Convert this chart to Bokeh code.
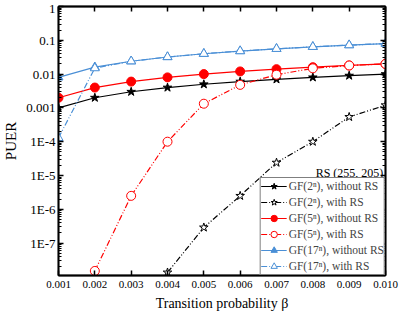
import numpy as np
from bokeh.plotting import figure
from bokeh.models import (FixedTicker, CustomJSTickFormatter, LogAxis, LinearAxis,
                          Legend, LegendItem, Label, Range1d, NumeralTickFormatter)
from bokeh.embed import file_html
from bokeh.resources import INLINE

# ---- data ----
beta = [0.001, 0.002, 0.003, 0.004, 0.005, 0.006, 0.007, 0.008, 0.009, 0.010]
gf2_without = [0.001, 0.002, 0.003, 0.004, 0.005, 0.006, 0.007, 0.008, 0.009, 0.010]
gf5_without = [0.002, 0.004, 0.006, 0.008, 0.010, 0.012, 0.014, 0.016, 0.018, 0.020]
gf17_without = [0.008, 0.016, 0.024, 0.032, 0.040, 0.048, 0.056, 0.064, 0.072, 0.080]
beta_gf2_with = [0.004, 0.005, 0.006, 0.007, 0.008, 0.009, 0.010]
gf2_with = [1.35e-8, 2.9e-7, 2.5e-6, 2.4e-5, 1.0e-4, 5.4e-4, 1.2e-3]
beta_gf5_with = [0.002, 0.003, 0.004, 0.005, 0.006, 0.007, 0.008, 0.009, 0.010]
gf5_with = [1.5e-8, 2.5e-6, 1.0e-4, 1.33e-3, 4.8e-3, 9.6e-3, 0.0148, 0.018, 0.020]
gf17_with = [1.3e-4, 0.015, 0.024, 0.032, 0.040, 0.048, 0.056, 0.064, 0.072, 0.080]

x_ticks = beta
y_major = [1e-8, 1e-7, 1e-6, 1e-5, 1e-4, 1e-3, 1e-2, 1e-1, 1.0]
labels = ["GF(2ⁿ), without RS", "GF(2ⁿ), with RS",
          "GF(5ⁿ), without RS", "GF(5ⁿ), with RS",
          "GF(17ⁿ), without RS", "GF(17ⁿ), with RS"]

FONT = "Liberation Serif"
BLACK = "#000000"
RED = "#ff0000"
BLUE = "#4a8fd6"
DASH = "6 2 1 2 1 2"

y_minor = [m * d for d in y_major[:-1] for m in range(2, 10)]

p = figure(width=399, height=313, output_backend="svg", toolbar_location=None,
           x_axis_type="linear", y_axis_type="log",
           x_range=Range1d(0.001, 0.010), y_range=Range1d(1.1e-8, 1.0),
           min_border_left=47, min_border_right=14, min_border_top=6, min_border_bottom=36)
p.grid.visible = False
p.outline_line_color = BLACK
p.outline_line_width = 1.5
p.background_fill_color = "white"
p.border_fill_color = "white"

yt = FixedTicker(ticks=y_major, minor_ticks=y_minor)
xt = FixedTicker(ticks=x_ticks)
yfmt = CustomJSTickFormatter(code="""
if (tick >= 0.001) { return tick.toString(); }
return "1E" + Math.round(Math.log10(tick));
""")
blank = CustomJSTickFormatter(code="return '';")

def style_axis(ax):
    ax.axis_line_color = BLACK
    ax.axis_line_width = 1.8
    ax.major_tick_in = 5
    ax.major_tick_out = 0
    ax.minor_tick_in = 3
    ax.minor_tick_out = 0
    ax.major_tick_line_color = BLACK
    ax.minor_tick_line_color = BLACK
    ax.major_tick_line_width = 1.5
    ax.major_label_text_font = FONT
    ax.axis_label_text_font = FONT
    ax.axis_label_text_font_style = "normal"
    ax.axis_label_text_color = BLACK
    ax.major_label_text_color = BLACK

ya = p.yaxis[0]
ya.ticker = yt
ya.formatter = yfmt
style_axis(ya)
ya.major_label_text_font_size = "13px"
ya.axis_label = "PUER"
ya.axis_label_text_font_size = "15px"
ya.axis_label_standoff = 4
ya.major_label_standoff = 3

xa = p.xaxis[0]
xa.ticker = xt
xa.formatter = NumeralTickFormatter(format="0.000")
style_axis(xa)
xa.minor_tick_line_color = None
xa.major_label_text_font_size = "11px"
xa.axis_label = "Transition probability β"
xa.axis_label_text_font_size = "14px"
xa.axis_label_standoff = 5
xa.major_label_standoff = 5

ra = LogAxis(ticker=yt, formatter=blank)
style_axis(ra)
ra.major_label_standoff = 0
p.add_layout(ra, "right")

ta = LinearAxis(ticker=xt, formatter=blank)
style_axis(ta)
ta.minor_tick_line_color = None
ta.major_label_standoff = 0
p.add_layout(ta, "above")

items = []
def series(xs, ys, color, dash, marker, filled, label, size):
    lr = p.line(xs, ys, line_color=color, line_width=1.2, line_dash=dash)
    sr = p.scatter(xs, ys, marker=marker, size=size, line_color=color,
                   fill_color=color if filled else "white", line_width=1)
    items.append(LegendItem(label=label, renderers=[lr, sr]))

series(beta, gf2_without, BLACK, "solid", "star", True, labels[0], 9)
series(beta_gf2_with, gf2_with, BLACK, DASH, "star", False, labels[1], 9)
series(beta, gf5_without, RED, "solid", "circle", True, labels[2], 9)
series(beta_gf5_with, gf5_with, RED, DASH, "circle", False, labels[3], 9)
series(beta, gf17_without, BLUE, "solid", "triangle", True, labels[4], 9)
series(beta, gf17_with, BLUE, DASH, "triangle", False, labels[5], 9)

legend = Legend(items=items, location="bottom_right", margin=0, padding=0,
                spacing=0, label_height=16, glyph_height=16, glyph_width=26,
                label_text_font=FONT, label_text_font_size="11.5px",
                label_standoff=2, border_line_color=BLACK, border_line_width=1,
                background_fill_alpha=1.0)
p.add_layout(legend)

rs = Label(x=0.00994, y=7.5e-6, text="RS (255, 205)", text_font=FONT,
           text_font_size="12px", text_align="right", text_baseline="bottom",
           text_color=BLACK)
p.add_layout(rs)

open("out.html", "w").write(file_html(p, INLINE))
